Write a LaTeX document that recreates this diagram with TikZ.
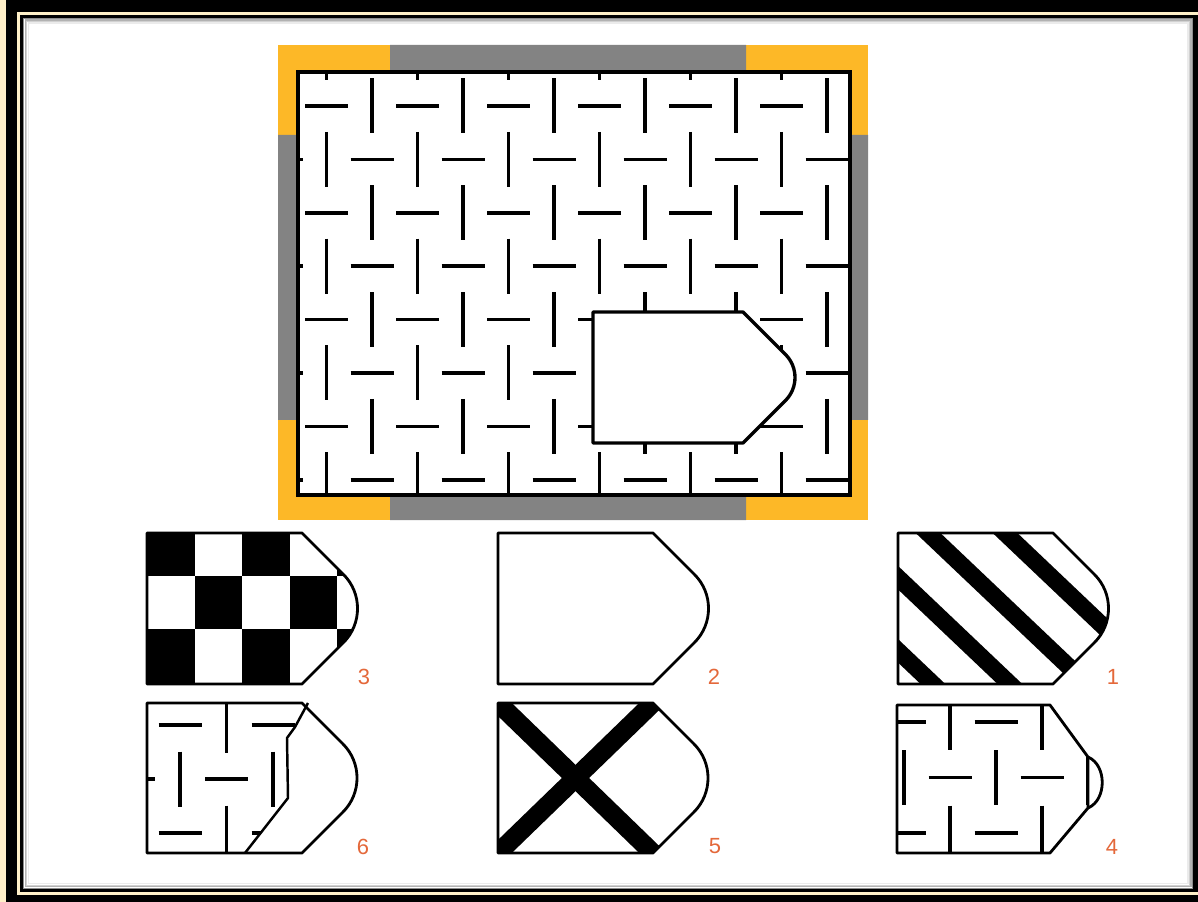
\documentclass[tikz,border=0pt]{standalone}
\usepackage{fontspec}
\setmainfont{Liberation Sans}
\usetikzlibrary{calc}
\definecolor{frcream}{HTML}{FFF0C8}
\definecolor{pzorange}{HTML}{FDB827}
\definecolor{pzgray}{HTML}{838383}
\definecolor{lblred}{HTML}{E4683A}

% outline of one puzzle piece: x, y, width, height, rounding
\newcommand{\tilepath}[5]{(#1,#2) -- ({#1+#3},#2)
  -- ({#1+#3+#4/2-#5},{#2+#4/2-#5})
  .. controls +({0.55*#5},{0.55*#5}) and +({0.55*#5},{-0.55*#5}) .. ({#1+#3+#4/2-#5},{#2+#4/2+#5})
  -- ({#1+#3},{#2+#4}) -- (#1,{#2+#4}) -- cycle}

% woven dash pattern: x0, y0, dx, dy, last column, last row
\newcommand{\weavegrid}[6]{%
  \foreach \i in {-1,...,#5}{
    \foreach \k in {-1,...,#6}{
      \ifodd\numexpr\i+\k\relax
        \draw[dashline] ({#1+\i*#3},{#2+\k*#4-27.5}) -- ++(0,55);
      \else
        \draw[dashline] ({#1+\i*#3-21.5},{#2+\k*#4}) -- ++(43,0);
      \fi
    }
  }}

\begin{document}
\begin{tikzpicture}[
  x=0.02cm, y=-0.02cm,
  dashline/.style={line width=2.1pt, black},
  tile/.style={draw=black, line width=1.6pt, line join=round},
  stripe/.style={line width=#1, black},
  optlabel/.style={text=lblred, font=\fontsize{12.5}{14}\selectfont, inner sep=0pt},
]
\useasboundingbox (0,0) rectangle (1198,902);

% frame
\fill[frcream] (0,0) rectangle (1198,902);
\fill[black] (6,0) rectangle (1198,902);
\fill[frcream] (17,12) rectangle (1198,895);
\fill[black] (20,15) rectangle (1198,892);
\fill[white] (23,18) rectangle (1193,889);
\foreach \s/\o in {0/0.45,1.5/0.3,3/0.18,4.5/0.08}
  \draw[black, opacity=\o, line width=0.85pt] ({23.75+\s},{18.75+\s}) rectangle ({1192.25-\s},{888.25-\s});

% puzzle board
\fill[pzorange] (278,45) rectangle (868,520);
\fill[pzgray] (390,45) rectangle (746,72) (390,495) rectangle (746,520)
  (278,135) rectangle (298,420) (850,135) rectangle (868,420);
\fill[white] (298,72) rectangle (850,495);
\begin{scope}
  \clip (298,72) rectangle (850,495);
  \weavegrid{326.5}{106}{45.5}{53.4}{12}{8}
\end{scope}
\draw[black, line width=2.3pt] (298,72) rectangle (850,495);
\filldraw[tile, fill=white, line width=1.9pt] \tilepath{593}{312}{150}{131}{23};

% option 3
\begin{scope}
  \clip \tilepath{147}{533}{155}{151}{34};
  \foreach \r/\ya/\yb in {0/533/576,1/576/629,2/629/684}
    \foreach \c in {0,...,4}{
      \ifodd\numexpr\c+\r\relax\else
        \fill[black] ({147+47.5*\c},\ya) rectangle ({147+47.5*(\c+1)},\yb);
      \fi
    }
\end{scope}
\draw[tile] \tilepath{147}{533}{155}{151}{34};
\node[optlabel] (lbl3) at (364,677) {3};

% option 2
\draw[tile] \tilepath{498}{533}{155}{151}{34};
\node[optlabel] (lbl2) at (714,677) {2};

% option 1
\begin{scope}
  \clip \tilepath{898}{533}{155}{151}{34};
  \foreach \c in {697,774,851,928,1005,1082}
    \draw[stripe=9.7pt] ({\c-100},438) -- ({\c+300},818);
\end{scope}
\draw[tile] \tilepath{898}{533}{155}{151}{34};
\node[optlabel] (lbl1) at (1113,677) {1};

% option 6
\begin{scope}
  \clip (147,703) -- (308,703) -- (295,727) -- (287,738) -- (288,798) -- (245,853) -- (147,853) -- cycle;
  \weavegrid{180}{725}{46.5}{54}{4}{3}
\end{scope}
\draw[tile] \tilepath{147}{703}{155}{150}{34};
\draw[tile, line width=1.4pt] (308,703) -- (295,727) -- (287,738) -- (288,798) -- (245,853);
\node[optlabel] (lbl6) at (363,847) {6};

% option 5
\begin{scope}
  \clip \tilepath{498}{703}{155}{150}{34};
  \draw[stripe=10.8pt] (477.5,683) -- (673.5,873);
  \draw[stripe=10.8pt] (673.5,683) -- (477.5,873);
\end{scope}
\draw[tile] \tilepath{498}{703}{155}{150}{34};
\node[optlabel] (lbl5) at (715,846) {5};

% option 4
\begin{scope}
  \clip (897,705) -- (1050,705) -- (1088,757) -- (1088,808) -- (1050,853) -- (897,853) -- cycle;
  \weavegrid{904}{722}{46}{55.5}{5}{3}
\end{scope}
\draw[tile] (897,705) -- (1050,705) -- (1088,757) -- (1088,808) -- (1050,853) -- (897,853) -- cycle;
\draw[tile] (1088,757) .. controls (1107,765) and (1107,800) .. (1088,808);
\node[optlabel] (lbl4) at (1112,847) {4};
\end{tikzpicture}
\end{document}
